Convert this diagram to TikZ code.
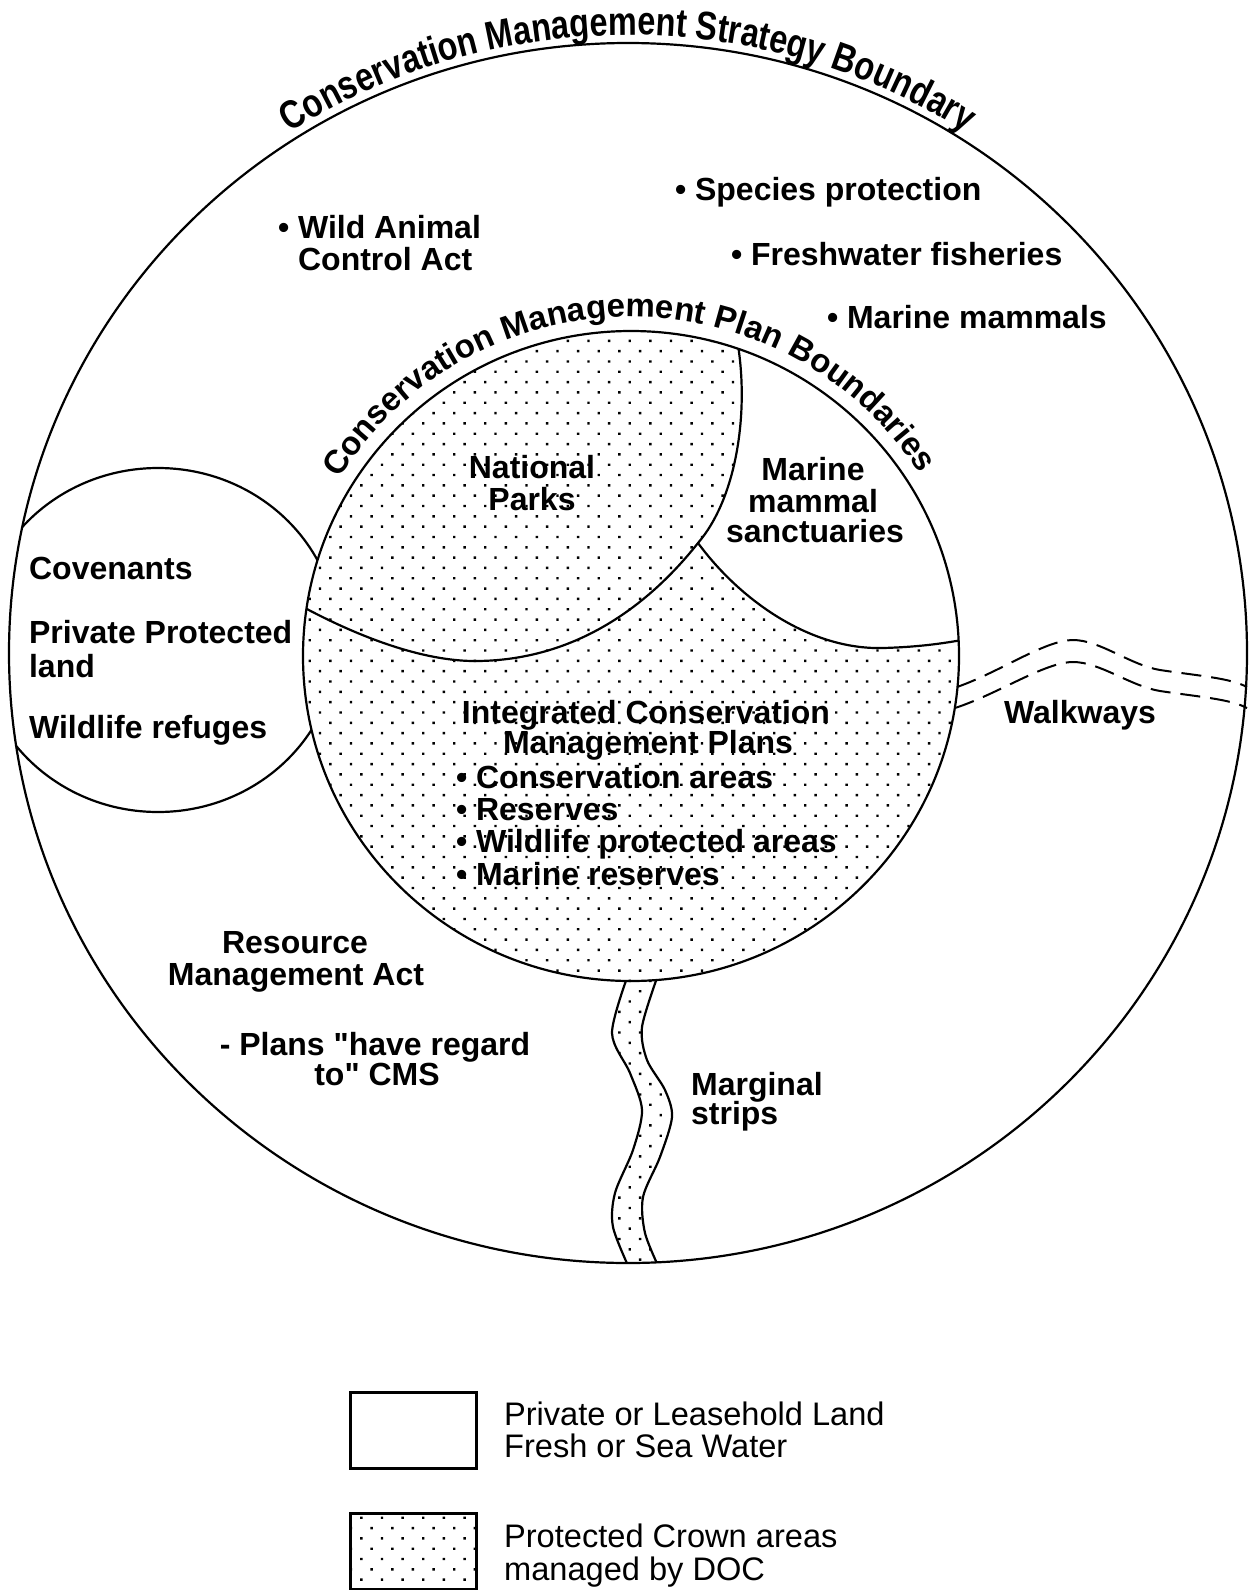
\documentclass[tikz,border=0pt]{standalone}
\usepackage{fontspec}
\setmainfont{Liberation Sans}
\newfontfamily\narrowfont[FakeStretch=0.81]{Liberation Sans}
\usetikzlibrary{patterns.meta,decorations.text}
\begin{document}
\begin{tikzpicture}
	[x=0.5pt, y=-0.5pt, line width=1.1pt,
	stipple/.style={pattern={Dots[distance=7.3pt, angle=45, radius=0.85pt]}},
	blabel/.style={font=\bfseries\fontsize{16}{16.5}\selectfont, inner sep=0pt, anchor=base},
	bleft/.style={blabel, anchor=base west},
	llabel/.style={font=\fontsize{16.3}{16.3}\selectfont, inner sep=0pt, anchor=base west},
	keybox/.style={draw, line width=1.5pt, minimum width=63pt, minimum height=38pt},
	walk/.style={dash pattern=on 10pt off 5pt, line width=1pt}]
	\useasboundingbox (0,0) rectangle (1251,1590);
	% private land circle and marginal strip, kept inside the strategy boundary
	\begin{scope}
		\clip (628,653) ellipse [x radius=619, y radius=610];
		\draw (158,640) ellipse [x radius=180, y radius=172];
		\path[stipple, preaction={fill=white}]
		plot[smooth] coordinates {(628,975) (612,1033) (630,1073) (642,1110) (633,1150) (615,1193) (613,1227) (630,1270)}
		-- plot[smooth] coordinates {(660,1270) (645,1233) (643,1197) (660,1157) (672,1117) (665,1090) (647,1060) (642,1027) (658,975)}
		-- cycle;
		\draw plot[smooth] coordinates {(628,975) (612,1033) (630,1073) (642,1110) (633,1150) (615,1193) (613,1227) (630,1270)};
		\draw plot[smooth] coordinates {(660,1270) (645,1233) (643,1197) (660,1157) (672,1117) (665,1090) (647,1060) (642,1027) (658,975)};
	\end{scope}
	% plan boundaries
	\fill[white] (631,656) ellipse [x radius=328, y radius=325];
	\fill[stipple] (631,656) ellipse [x radius=328, y radius=325];
	\begin{scope}
		\clip (631,656) ellipse [x radius=328, y radius=325];
		\fill[white] (698,543) .. controls (735,500) and (748,420) .. (739,352) -- (735,300) -- (1000,300)
		-- (1000,640) -- (962,640) .. controls (945,643) and (920,647) .. (883,648)
		.. controls (810,650) and (740,600) .. (698,543) -- cycle;
		\draw (300,605) -- (305,608) .. controls (350,632) and (415,660) .. (472,661)
		.. controls (570,662) and (645,610) .. (698,543)
		.. controls (735,500) and (748,420) .. (739,352) -- (735,322);
		\draw (698,543) .. controls (740,600) and (810,650) .. (883,648)
		.. controls (920,647) and (945,643) .. (962,640);
	\end{scope}
	\draw (631,656) ellipse [x radius=328, y radius=325];
	\draw (628,653) ellipse [x radius=619, y radius=610];
	% walkways
	\draw[walk] (957,687) .. controls (1000,672) and (1045,640) .. (1073,640)
	.. controls (1100,640) and (1130,665) .. (1160,670)
	.. controls (1200,676) and (1230,678) .. (1247,687);
	\draw[walk] (955,708) .. controls (998,694) and (1045,662) .. (1073,662)
	.. controls (1100,662) and (1130,686) .. (1160,691)
	.. controls (1200,697) and (1230,699) .. (1247,708);
	% curved titles
	\path[decorate, decoration={text along path, text align=center,
		text={|\narrowfont\bfseries\fontsize{20}{24}\selectfont|Conservation Management Strategy Boundary}}]
	(628,653) ++(222:627 and 618) arc [start angle=222, end angle=318, x radius=627, y radius=618];
	\path[decorate, decoration={text along path, text align=center,
		text={|\bfseries\fontsize{16.5}{19}\selectfont|Conservation Management Plan Boundaries}}]
	(631,656) ++(200:342 and 339) arc [start angle=200, end angle=339, x radius=342, y radius=339];
	% labels
	\node[bleft] (wild1) at (297,238) {\llap{•\ }Wild Animal};
	\node[bleft] (wild2) at (297,270) {Control Act};
	\node[bleft] (species) at (694,200) {\llap{•\ }Species protection};
	\node[bleft] (fisheries) at (750,265) {\llap{•\ }Freshwater fisheries};
	\node[bleft] (mammals) at (846,328) {\llap{•\ }Marine mammals};
	\node[bleft] (covenants) at (28,579) {Covenants};
	\node[bleft] (privland1) at (28,643) {Private Protected};
	\node[bleft] (privland2) at (28,677) {land};
	\node[bleft] (refuges) at (28,738) {Wildlife refuges};
	\node[blabel] (parks1) at (532,478) {National};
	\node[blabel] (parks2) at (532,510) {Parks};
	\node[blabel] (sanct1) at (813,480) {Marine};
	\node[blabel] (sanct2) at (813,512) {mammal};
	\node[blabel] (sanct3) at (815,542) {sanctuaries};
	\node[blabel] (icmp1) at (646,723) {Integrated Conservation};
	\node[blabel] (icmp2) at (648,753) {Management Plans};
	\foreach \txt [count=\i] in {Conservation areas, Reserves, Wildlife protected areas, Marine reserves}
		\node[bleft] (plan\i) at (475,{788+32.4*(\i-1)}) {\llap{•\ }\txt};
	\node[blabel] (walkways) at (1080,723) {Walkways};
	\node[blabel] (rma1) at (295,953) {Resource};
	\node[blabel] (rma2) at (296,985) {Management Act};
	\node[blabel] (regard1) at (375,1055) {- Plans \textquotedbl have regard};
	\node[blabel] (regard2) at (377,1085) {to\textquotedbl\ CMS};
	\node[bleft] (strips1) at (690,1095) {Marginal};
	\node[bleft] (strips2) at (690,1124) {strips};
	% key
	\node[keybox] (keyplain) at (413,1430) {};
	\node[keybox, stipple] (keydots) at (413,1551) {};
	\node[llabel] (keyplain1) at (503,1425) {Private or Leasehold Land};
	\node[llabel] (keyplain2) at (503,1457) {Fresh or Sea Water};
	\node[llabel] (keydots1) at (503,1547) {Protected Crown areas};
	\node[llabel] (keydots2) at (503,1580) {managed by DOC};
\end{tikzpicture}
\end{document}
